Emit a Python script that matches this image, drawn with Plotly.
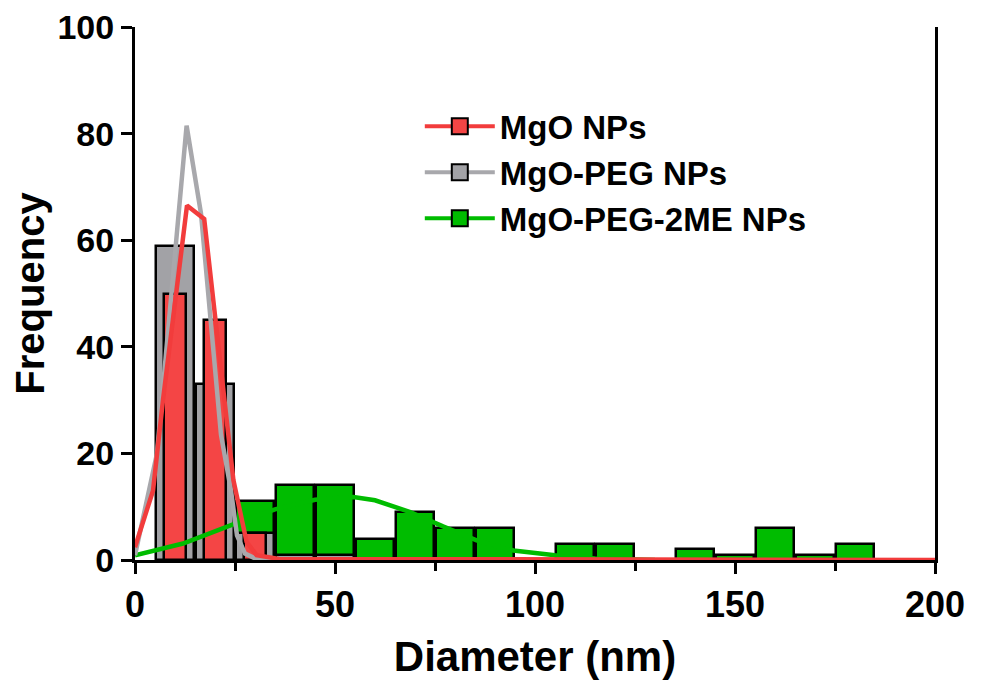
import plotly.graph_objects as go

# ---------------- data ----------------
mgo_bin_x = [10, 20, 30]
mgo_bin_y = [50, 45, 5]

peg_bin_x = [10, 20, 30, 40, 50]
peg_bin_y = [59, 33, 5, 1, 1]

me_bin_x = [30, 40, 50, 60, 70, 80, 90, 100, 110, 120, 130, 140, 150, 160, 170, 180]
me_bin_y = [11, 14, 14, 4, 9, 6, 6, 0, 3, 3, 0, 2, 1, 6, 1, 3]

mgo_fit_x = [0, 4.5, 7, 13, 17.3, 22.3, 24.6, 26.3, 27.9, 30.4, 36, 200]
mgo_fit_y = [2.4, 13, 30, 66.5, 64, 29.6, 15, 9, 3.4, 0.9, 0.2, 0]

peg_fit_x = [0, 3, 5.5, 12.9, 16.5, 21.5, 24, 25.5, 27.5, 30, 35]
peg_fit_y = [0.9, 11, 20, 81.5, 65, 23.5, 13, 4.6, 1.2, 0.3, 0]

me_fit_x = [0, 12, 24.2, 30, 35, 45, 54.6, 60, 68.8, 77, 85.4, 94.6, 105, 115, 130]
me_fit_y = [0.9, 3.1, 6.6, 8.2, 9.5, 11.3, 11.8, 11.2, 9, 6.3, 3.7, 1.8, 0.9, 0.3, 0]

series_names = ["MgO NPs", "MgO-PEG NPs", "MgO-PEG-2ME NPs"]

RED = "#F44545"
GRAY = "#A2A2A6"
GREEN = "#00BC00"
RED_L = "#F23C3C"
GRAY_L = "#A8A8AC"
GREEN_L = "#00BC00"

FONT = "Liberation Sans, Arial, sans-serif"

fig = go.Figure()

edge = dict(color="black", width=2.5)
fig.add_trace(go.Bar(x=me_bin_x, y=me_bin_y, width=9.6, marker=dict(color=GREEN, line=edge), showlegend=False))
fig.add_trace(go.Bar(x=peg_bin_x, y=peg_bin_y, width=9.5, marker=dict(color=GRAY, line=edge), showlegend=False))
fig.add_trace(go.Bar(x=mgo_bin_x, y=mgo_bin_y, width=5.6, marker=dict(color=RED, line=edge), showlegend=False))

fig.add_trace(go.Scatter(x=me_fit_x, y=me_fit_y, mode="lines", line=dict(color=GREEN_L, width=4.5), showlegend=False))
fig.add_trace(go.Scatter(x=peg_fit_x, y=peg_fit_y, mode="lines", line=dict(color=GRAY_L, width=4.5), showlegend=False))
fig.add_trace(go.Scatter(x=mgo_fit_x, y=mgo_fit_y, mode="lines", line=dict(color=RED_L, width=4.5), showlegend=False))

# legend entries
for name, fc, lc in zip(series_names, [RED, GRAY, GREEN], [RED_L, GRAY_L, GREEN_L]):
    fig.add_trace(go.Scatter(
        x=[None], y=[None], mode="lines+markers", name=name,
        line=dict(color=lc, width=4),
        marker=dict(symbol="square", size=16, color=fc, line=dict(color="black", width=2)),
    ))

fig.update_layout(
    width=982, height=684,
    margin=dict(l=127, r=55, t=19, b=132),
    plot_bgcolor="white", paper_bgcolor="white",
    barmode="overlay", bargap=0,
    font=dict(family=FONT, color="black"),
    showlegend=True,
    legend=dict(
        x=0.356, y=0.866, xanchor="left", yanchor="top",
        font=dict(family=FONT, size=33, weight="bold", color="black"),
        bgcolor="rgba(0,0,0,0)", itemwidth=70,
    ),
    xaxis=dict(
        range=[0, 200], tickmode="array", tickvals=[0, 50, 100, 150, 200],
        showgrid=False, zeroline=False, automargin=False, ticklabeloverflow="allow",
        showline=True, linecolor="black", linewidth=3,
        ticks="outside", ticklen=11, tickwidth=3, tickcolor="black",
        minor=dict(tickvals=[25, 75, 125, 175], ticks="outside", ticklen=8, tickwidth=2.5, tickcolor="black"),
        tickfont=dict(family=FONT, size=36, weight="bold", color="black"),
        title=dict(text="Diameter (nm)", font=dict(family=FONT, size=42, weight="bold", color="black"), standoff=18),
    ),
    yaxis=dict(
        range=[0, 100], tickmode="array", tickvals=[0, 20, 40, 60, 80, 100],
        showgrid=False, zeroline=False, automargin=False, ticklabeloverflow="allow",
        showline=True, linecolor="black", linewidth=3, mirror=True,
        ticks="outside", ticklen=11, tickwidth=3, tickcolor="black",
        tickfont=dict(family=FONT, size=34, weight="bold", color="black"),
        title=dict(text="Frequency", font=dict(family=FONT, size=40, weight="bold", color="black"), standoff=2),
    ),
)

fig.write_html("out.html")
